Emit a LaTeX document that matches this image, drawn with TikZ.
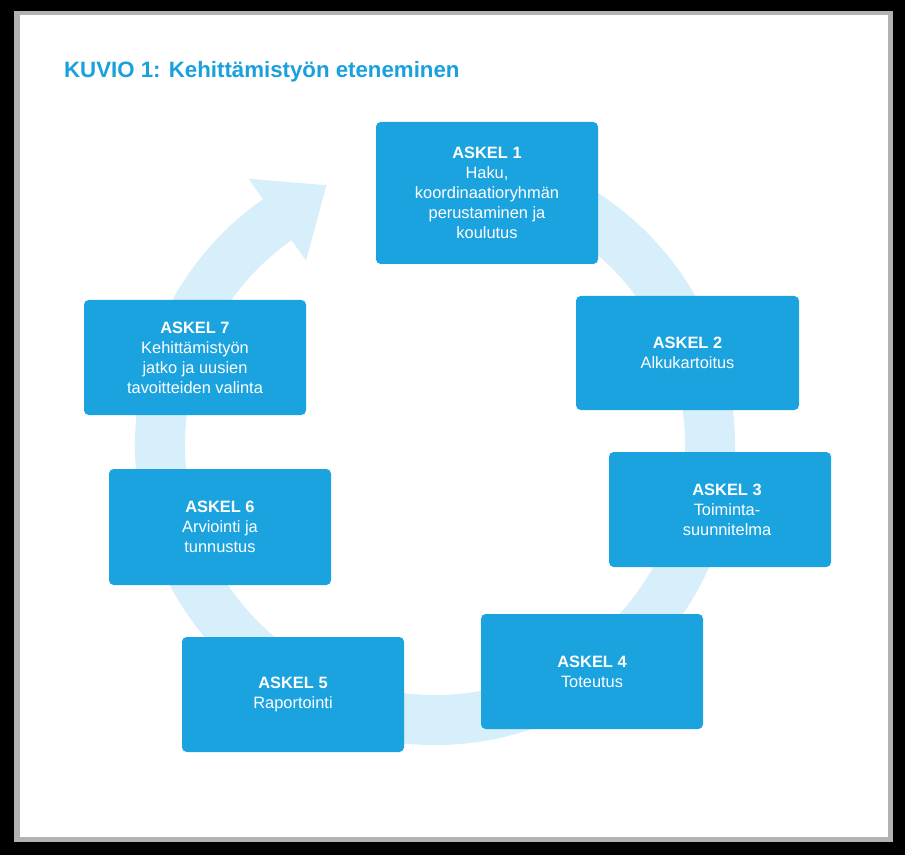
\documentclass[tikz,border=0pt]{standalone}
\usepackage{fontspec}
\setmainfont{Liberation Sans}
\usetikzlibrary{calc}
\definecolor{boxblue}{HTML}{1BA3E0}
\definecolor{ringblue}{HTML}{D6EFFB}
\definecolor{titleblue}{HTML}{1AA0DC}
\begin{document}
\begin{tikzpicture}[x=0.03cm,y=0.03cm,
  stepbox/.style={fill=boxblue,rounded corners=4pt,minimum width=222*0.03cm,text=white,align=center,font=\fontsize{14}{17}\selectfont,inner sep=0pt},
  ]
\useasboundingbox (0,0) rectangle (905,855);
\fill[black] (0,0) rectangle (905,855);
\fill[gray!60] (14,13) rectangle (893,844);
\fill[white] (20,18) rectangle (888,840);
% ring
\coordinate (c) at (435,410);
\draw[ringblue,line width=50*0.03cm] ($(c)+(80:275)$) arc[start angle=80,end angle=-235,radius=275*0.03cm];
\fill[ringblue] (248.6,676.3) -- (326.4,669.7) -- (306,594.3) -- cycle;
\node[anchor=west,text=titleblue,font=\fontsize{19}{22}\selectfont\bfseries] (title) at (60,783) {KUVIO 1: Kehittämistyön eteneminen};
\node[stepbox,minimum height=142*0.03cm] (s1) at (487,662) {\textbf{ASKEL 1}\\Haku,\\koordinaatioryhmän\\perustaminen ja\\koulutus};
\node[stepbox,minimum height=114*0.03cm,minimum width=223*0.03cm] (s2) at (687.5,502) {\textbf{ASKEL 2}\\Alkukartoitus};
\node[stepbox,minimum height=115*0.03cm] (s3) at (720,345.5) {\hspace*{12pt}\textbf{ASKEL 3}\\\hspace*{12pt}Toiminta-\\\hspace*{12pt}suunnitelma};
\node[stepbox,minimum height=115*0.03cm] (s4) at (592,183.5) {\textbf{ASKEL 4}\\Toteutus};
\node[stepbox,minimum height=115*0.03cm] (s5) at (293,160.5) {\textbf{ASKEL 5}\\Raportointi};
\node[stepbox,minimum height=116*0.03cm] (s6) at (220,328) {\textbf{ASKEL 6}\\Arviointi ja\\tunnustus};
\node[stepbox,minimum height=115*0.03cm] (s7) at (195,497.5) {\textbf{ASKEL 7}\\Kehittämistyön\\jatko ja uusien\\tavoitteiden valinta};
\end{tikzpicture}
\end{document}
